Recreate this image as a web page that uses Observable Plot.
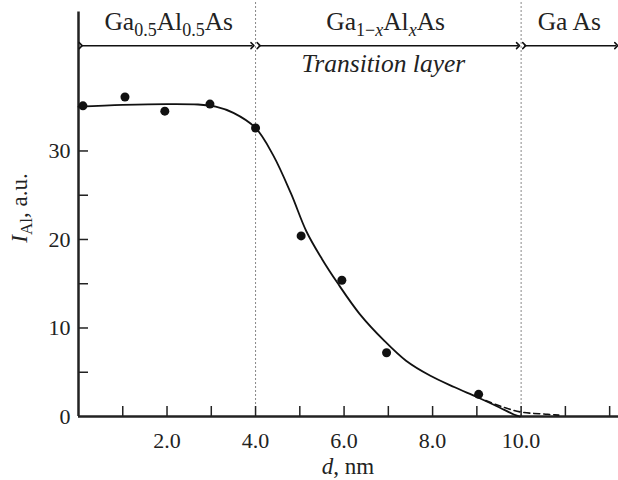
<!DOCTYPE html>
<html>
<head>
<meta charset="utf-8">
<script src="https://cdn.jsdelivr.net/npm/d3@7"></script>
<script src="https://cdn.jsdelivr.net/npm/@observablehq/plot@0.6"></script>
<style>
  html, body { margin: 0; padding: 0; background: #fff; }
  svg { font-family: "Liberation Serif", "Times New Roman", serif; }
</style>
</head>
<body>
<div id="chart"></div>
<script>
// Measured points
const depth = [0.1, 1.05, 1.95, 2.97, 4.0, 5.03, 5.95, 6.96, 9.04];
const intensity = [35.1, 36.1, 34.5, 35.3, 32.6, 20.4, 15.4, 7.2, 2.5];

// Fitted solid curve
const curveX = [0, 1, 2, 2.7, 3.1, 3.5, 4.0, 4.4, 4.8, 5.15, 5.5, 5.85, 6.35, 6.9, 7.4, 7.95, 8.5, 9.0, 9.5, 9.85, 9.97];
const curveY = [35.0, 35.2, 35.3, 35.25, 35.0, 34.3, 32.6, 29.5, 25.2, 20.9, 17.8, 15.1, 11.6, 8.6, 6.3, 4.6, 3.3, 2.2, 1.05, 0.2, 0];

// Dashed tail
const dashX = [9.2, 9.6, 10.0, 10.6, 10.85];
const dashY = [1.8, 1.05, 0.5, 0.25, 0.15];

// Axis ticks
const xTickValues = [2, 4, 6, 8, 10];
const xTickLabels = ["2.0", "4.0", "6.0", "8.0", "10.0"];
const xTickMarks = [1, 2, 3, 4, 5, 6, 7, 8, 9, 10, 11, 12];
const yTickValues = [0, 10, 20, 30];
const yTickLabels = ["0", "10", "20", "30"];
const yTickMarks = [5, 10, 15, 20, 25, 30];

// Layer boundaries and annotations
const boundaries = [4, 10];
const arrowY = 41.9;
const arrowSpans = [[0.05, 3.93], [4.07, 9.93], [10.07, 12.15]];

const curve = curveX.map((x, i) => ({x, y: curveY[i]}));
const dash = dashX.map((x, i) => ({x, y: dashY[i]}));
const pts = depth.map((x, i) => ({x, y: intensity[i]}));
const arrows = arrowSpans.map(([a, b]) => ({x1: a, x2: b, y: arrowY}));

const serif = '"Liberation Serif", "Times New Roman", serif';

const plot = Plot.plot({
  width: 618,
  height: 480,
  marginLeft: 78,
  marginRight: 0,
  marginTop: 0,
  marginBottom: 64,
  style: {fontFamily: serif, fontSize: "22px", background: "#fff"},
  x: {domain: [0, 12.2], axis: null},
  y: {domain: [0, 47], axis: null},
  marks: [
    Plot.ruleX(boundaries, {y1: 0, y2: 47, stroke: "#888", strokeWidth: 1, strokeDasharray: "2,2"}),
    Plot.ruleX(xTickMarks, {y1: 0, y2: 0, insetTop: -10, stroke: "#222", strokeWidth: 1.5}),
    Plot.ruleY(yTickMarks, {x1: 0, x2: 0, insetRight: -10, stroke: "#222", strokeWidth: 1.5}),
    Plot.ruleY([0], {x1: 0, x2: 12.2, stroke: "#222", strokeWidth: 2.5}),
    Plot.ruleX([0], {y1: 0, y2: 45.7, stroke: "#222", strokeWidth: 2.5}),
    Plot.line(curve, {x: "x", y: "y", curve: "catmull-rom", stroke: "#111", strokeWidth: 1.8}),
    Plot.line(dash, {x: "x", y: "y", curve: "monotone-x", stroke: "#111", strokeWidth: 1.6, strokeDasharray: "6,4"}),
    Plot.dot(pts, {x: "x", y: "y", r: 4.5, fill: "#111"}),
    Plot.link(arrows, {x1: "x1", x2: "x2", y1: "y", y2: "y", stroke: "#111", strokeWidth: 1.5, markerStart: "arrow", markerEnd: "arrow"}),
    Plot.text(xTickValues, {x: d => d, y: 0, text: (d, i) => xTickLabels[i], dy: 24, fill: "#222", fontSize: 22}),
    Plot.text(yTickValues, {x: 0, y: d => d, text: (d, i) => yTickLabels[i], dx: -8, textAnchor: "end", fill: "#222", fontSize: 22})
  ]
});

document.getElementById("chart").appendChild(plot);

// Rich text labels with sub/superscripts, positioned through the plot's scales
const sx = plot.scale("x"), sy = plot.scale("y");
const X = d3.scaleLinear(sx.domain, sx.range);
const Y = d3.scaleLinear(sy.domain, sy.range);
const svg = d3.select(plot);
const g = svg.append("g").attr("fill", "#222").attr("font-family", serif);

function rich(x, y, parts, opts = {}) {
  const size = opts.size || 25;
  const sub = Math.round(size * 0.72);
  const t = g.append("text").attr("x", x).attr("y", y)
    .attr("text-anchor", opts.anchor || "middle").attr("font-size", size);
  if (opts.rotate) t.attr("transform", `rotate(-90 ${x} ${y})`);
  parts.forEach(p => {
    const s = t.append("tspan").text(p.t);
    if (p.i) s.attr("font-style", "italic");
    if (p.sub) s.attr("font-size", sub);
    if (p.down) s.attr("dy", Math.round(size * 0.22));
    if (p.up) s.attr("dy", -Math.round(size * 0.22));
  });
  return t;
}

const layerTitleY = 30;
rich(X(2.05), layerTitleY, [
  {t: "Ga"}, {t: "0.5", sub: true, down: true}, {t: "Al", up: true}, {t: "0.5", sub: true, down: true}, {t: "As", up: true}
], {size: 25.5});
rich(X(6.95), layerTitleY, [
  {t: "Ga"}, {t: "1\u2212", sub: true, down: true}, {t: "x", sub: true, i: true}, {t: "Al", up: true}, {t: "x", sub: true, i: true, down: true}, {t: "As", up: true}
], {size: 25.5});
rich(X(6.9), 72, [{t: "Transition layer", i: true}], {size: 25.5});
rich(X(11.1), layerTitleY, [{t: "Ga\u2009As"}], {size: 25.5});

rich(X(6.1), 474, [{t: "d", i: true}, {t: ", nm"}], {size: 23});
rich(27, Y(23.5), [{t: "I", i: true}, {t: "Al", sub: true, down: true}, {t: ", a.u.", up: true}], {rotate: true, size: 23});
</script>
</body>
</html>
